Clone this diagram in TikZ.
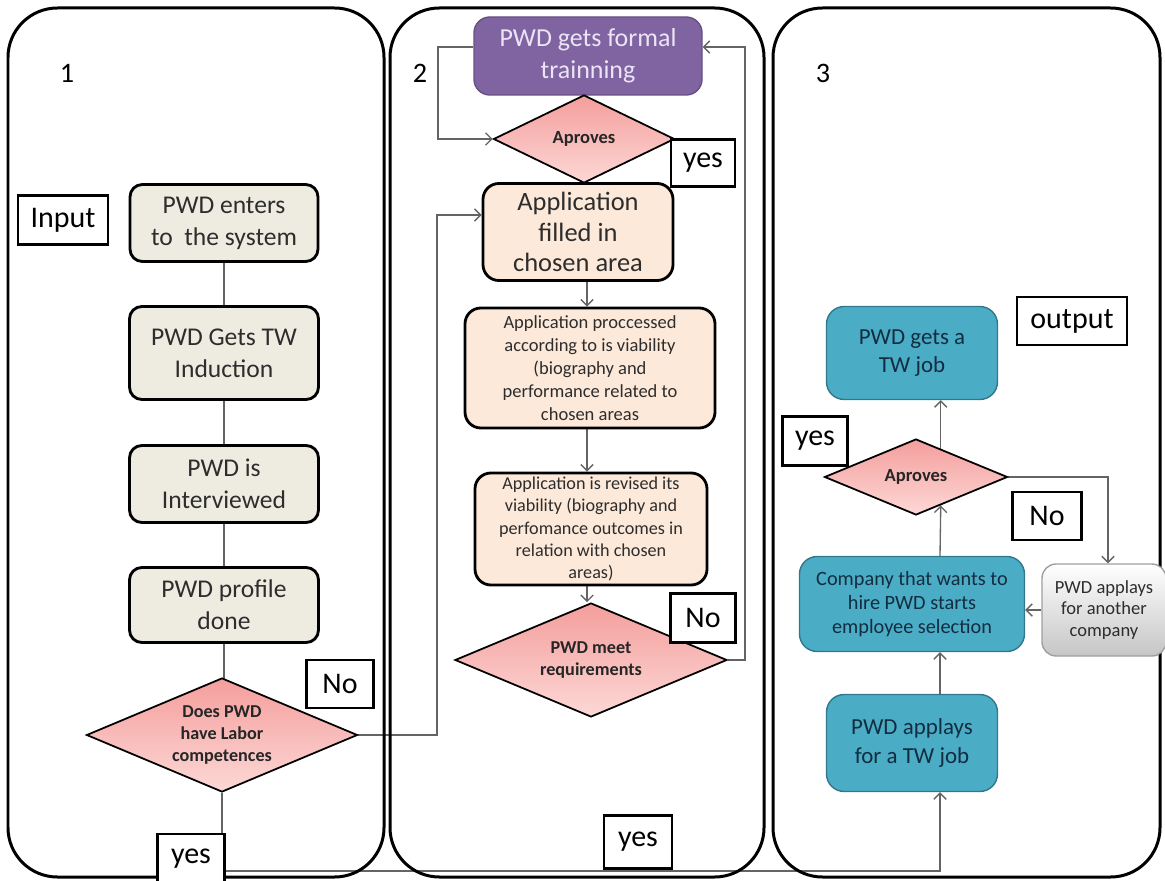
\documentclass[tikz,border=0pt]{standalone}
\usepackage{fontspec}
\setmainfont{Carlito}
\usetikzlibrary{shapes.geometric,
                arrows.meta,
                backgrounds}

\newcommand{\pxu}{0.567pt}
\definecolor{beige}{RGB}{238,236,225}
\definecolor{peach}{RGB}{253,233,217}
\definecolor{plum}{RGB}{128,100,162}
\definecolor{plumtext}{RGB}{236,228,246}
\definecolor{aqua}{RGB}{75,172,198}
\definecolor{aquaedge}{RGB}{49,120,140}
\definecolor{aquatext}{RGB}{18,45,64}
\definecolor{rosetop}{RGB}{244,158,156}
\definecolor{rosebot}{RGB}{252,216,214}
\definecolor{wire}{RGB}{100,100,100}
\definecolor{ink}{RGB}{45,45,45}

\tikzset{
  dims/.style 2 args={minimum width=#1*\pxu, minimum height=#2*\pxu},
  panel/.style={line width=1.7pt, rounded corners=28pt},
  numlabel/.style={font=\fontsize{16}{19}\selectfont},
  tag/.style={draw, fill=white, line width=1.4pt, inner sep=0pt,
              font=\fontsize{17}{20}\selectfont},
  stagebox/.style={draw, fill=beige, rounded corners=7pt, line width=1.6pt,
                   align=center, inner sep=2pt, text=ink,
                   font=\fontsize{14.5}{18}\selectfont},
  peachbox/.style={draw, fill=peach, rounded corners=9pt, line width=1.6pt,
                   align=center, inner sep=2pt, text=ink},
  aquabox/.style={draw=aquaedge, fill=aqua, rounded corners=10pt, line width=0.8pt,
                  align=center, inner sep=2pt, text=aquatext},
  greybox/.style={draw=gray!75, top color=white, bottom color=gray!45,
                  rounded corners=8pt, line width=0.8pt, align=center,
                  inner sep=2pt, text=ink, font=\fontsize{10.5}{12}\selectfont},
  decide/.style={diamond, shape aspect=2.4, draw, line width=1pt, inner sep=0pt,
                 top color=rosetop, bottom color=rosebot, align=center, text=black!85,
                 font=\bfseries\fontsize{10.3}{12.3}\selectfont},
  flow/.style={draw=wire, line width=0.75pt, -{Straight Barb[length=3.5pt,width=7pt]}},
  link/.style={draw=wire, line width=0.75pt}
}

\begin{document}
\begin{tikzpicture}[x=\pxu, y=-\pxu]
  \useasboundingbox (0,0) rectangle (1165,881);
  \draw[panel] (8,8) rectangle (384,877);
  \draw[panel] (390,8) rectangle (764,877);
  \draw[panel] (773,8) rectangle (1160,877);

  \node[numlabel] (one) at (67,73) {1};
  \node[numlabel] (two) at (420,73) {2};
  \node[numlabel] (three) at (823,73) {3};

  \node[tag, dims={90}{49}] (input) at (63,220) {Input};
  \node[stagebox, dims={188}{77}] (enter) at (224,223) {PWD enters\\to\ \ the system};
  \node[stagebox, dims={189}{93}] (induct) at (224,353) {PWD Gets TW\\Induction};
  \node[stagebox, dims={189}{77}] (interv) at (224,484) {PWD is\\Interviewed};
  \node[stagebox, dims={189}{75}] (profile) at (224,605) {PWD profile\\done};
  \node[decide, dims={271}{114}] (labor) at (222,735) {Does PWD\\have Labor\\competences};
  \node[tag, dims={67}{48}] (no1) at (340,684) {No};
  \node[tag, dims={67}{50}] (yes1) at (191,859) {yes};

  \node[draw=plum!80!black, fill=plum, rounded corners=9pt, line width=0.8pt, align=center,
        text=plumtext, font=\fontsize{14.7}{18}\selectfont, dims={228}{78}] (train) at (588,56)
        {PWD gets formal\\trainning};
  \node[decide, shape aspect=2.06, dims={181}{88}, font=\bfseries\fontsize{10.5}{12}\selectfont]
        (apr1) at (584,139) {Aproves};
  \node[tag, dims={64}{47}] (yes2) at (703,163) {yes};
  \node[peachbox, dims={190}{97}, font=\fontsize{15}{17.5}\selectfont] (filled) at (578,232)
        {Application\\filled in\\chosen area};
  \node[peachbox, dims={250}{120}, font=\fontsize{10.5}{13}\selectfont] (proc) at (590,368)
        {Application proccessed\\according to is viability\\(biography and\\performance related to\\chosen areas};
  \node[peachbox, dims={232}{112}, font=\fontsize{10.3}{12.6}\selectfont] (revis) at (591,529)
        {Application is revised its\\viability (biography and\\perfomance outcomes in\\relation with chosen\\areas)};
  \node[decide, dims={272}{114}] (meet) at (591,660) {PWD meet\\requirements};
  \node[tag, dims={65}{49}] (no2) at (703,618) {No};
  \node[tag, dims={68}{53}] (yes3) at (638,842) {yes};

  \node[tag, dims={110}{48}] (output) at (1072,321) {output};
  \node[aquabox, dims={171}{93}, font=\fontsize{13}{15.5}\selectfont] (getjob) at (912,353)
        {PWD gets a\\TW job};
  \node[tag, dims={65}{49}] (yes4) at (815,441) {yes};
  \node[decide, dims={183}{76}, font=\bfseries\fontsize{10.5}{12}\selectfont] (apr2) at (916,477) {Aproves};
  \node[tag, dims={69}{48}] (no3) at (1047,516) {No};
  \node[aquabox, dims={225}{95}, font=\fontsize{11.5}{13.5}\selectfont] (company) at (912,604)
        {Company that wants to\\hire PWD starts\\employee selection};
  \node[greybox, dims={124}{92}] (another) at (1104,610) {PWD applays\\for another\\company};
  \node[aquabox, dims={171}{97}, font=\fontsize{13}{16.5}\selectfont] (apply) at (912,743)
        {PWD applays\\for a TW job};

  \coordinate (colx) at (940,0);
  \coordinate (colm) at (587,0);
  \coordinate (botline) at (0,871);
  \coordinate (loopL) at (437,215);
  \coordinate (trL) at (438,47);
  \coordinate (trR) at (745,47);
  \coordinate (anX) at (1108,0);

  \begin{scope}[on background layer]
    \draw[link] (enter.south) -- (induct.north);
    \draw[link] (induct.south) -- (interv.north);
    \draw[link] (interv.south) -- (profile.north);
    \draw[link] (profile.south) -- (profile.south |- labor.center);
    \draw[flow] (labor.south) -- (labor.south |- botline) -| (apply.south -| colx);
    \draw[flow] (labor.east) -| (loopL) -- (loopL -| filled.west);
    \draw[flow] (trL -| train.west) -- (trL) |- (apr1.west);
    \draw[flow] (apr1.south -| colm) -- (filled.north -| colm);
    \draw[flow] (filled.south -| colm) -- (proc.north -| colm);
    \draw[flow] (proc.south -| colm) -- (revis.north -| colm);
    \draw[flow] (revis.south -| colm) -- (meet.north -| colm);
    \draw[flow] (meet.east) -| (trR) -- (trR -| train.east);
    \draw[flow] (apply.north -| colx) -- (company.south -| colx);
    \draw[flow] (company.north -| colx) -- (apr2.-49);
    \draw[flow] (apr2.49) -- (apr2.49 |- getjob.south);
    \draw[flow] (apr2.east) -| (another.north -| anX);
    \draw[flow] (another.west) -- (another.west -| company.east);
  \end{scope}
\end{tikzpicture}
\end{document}
